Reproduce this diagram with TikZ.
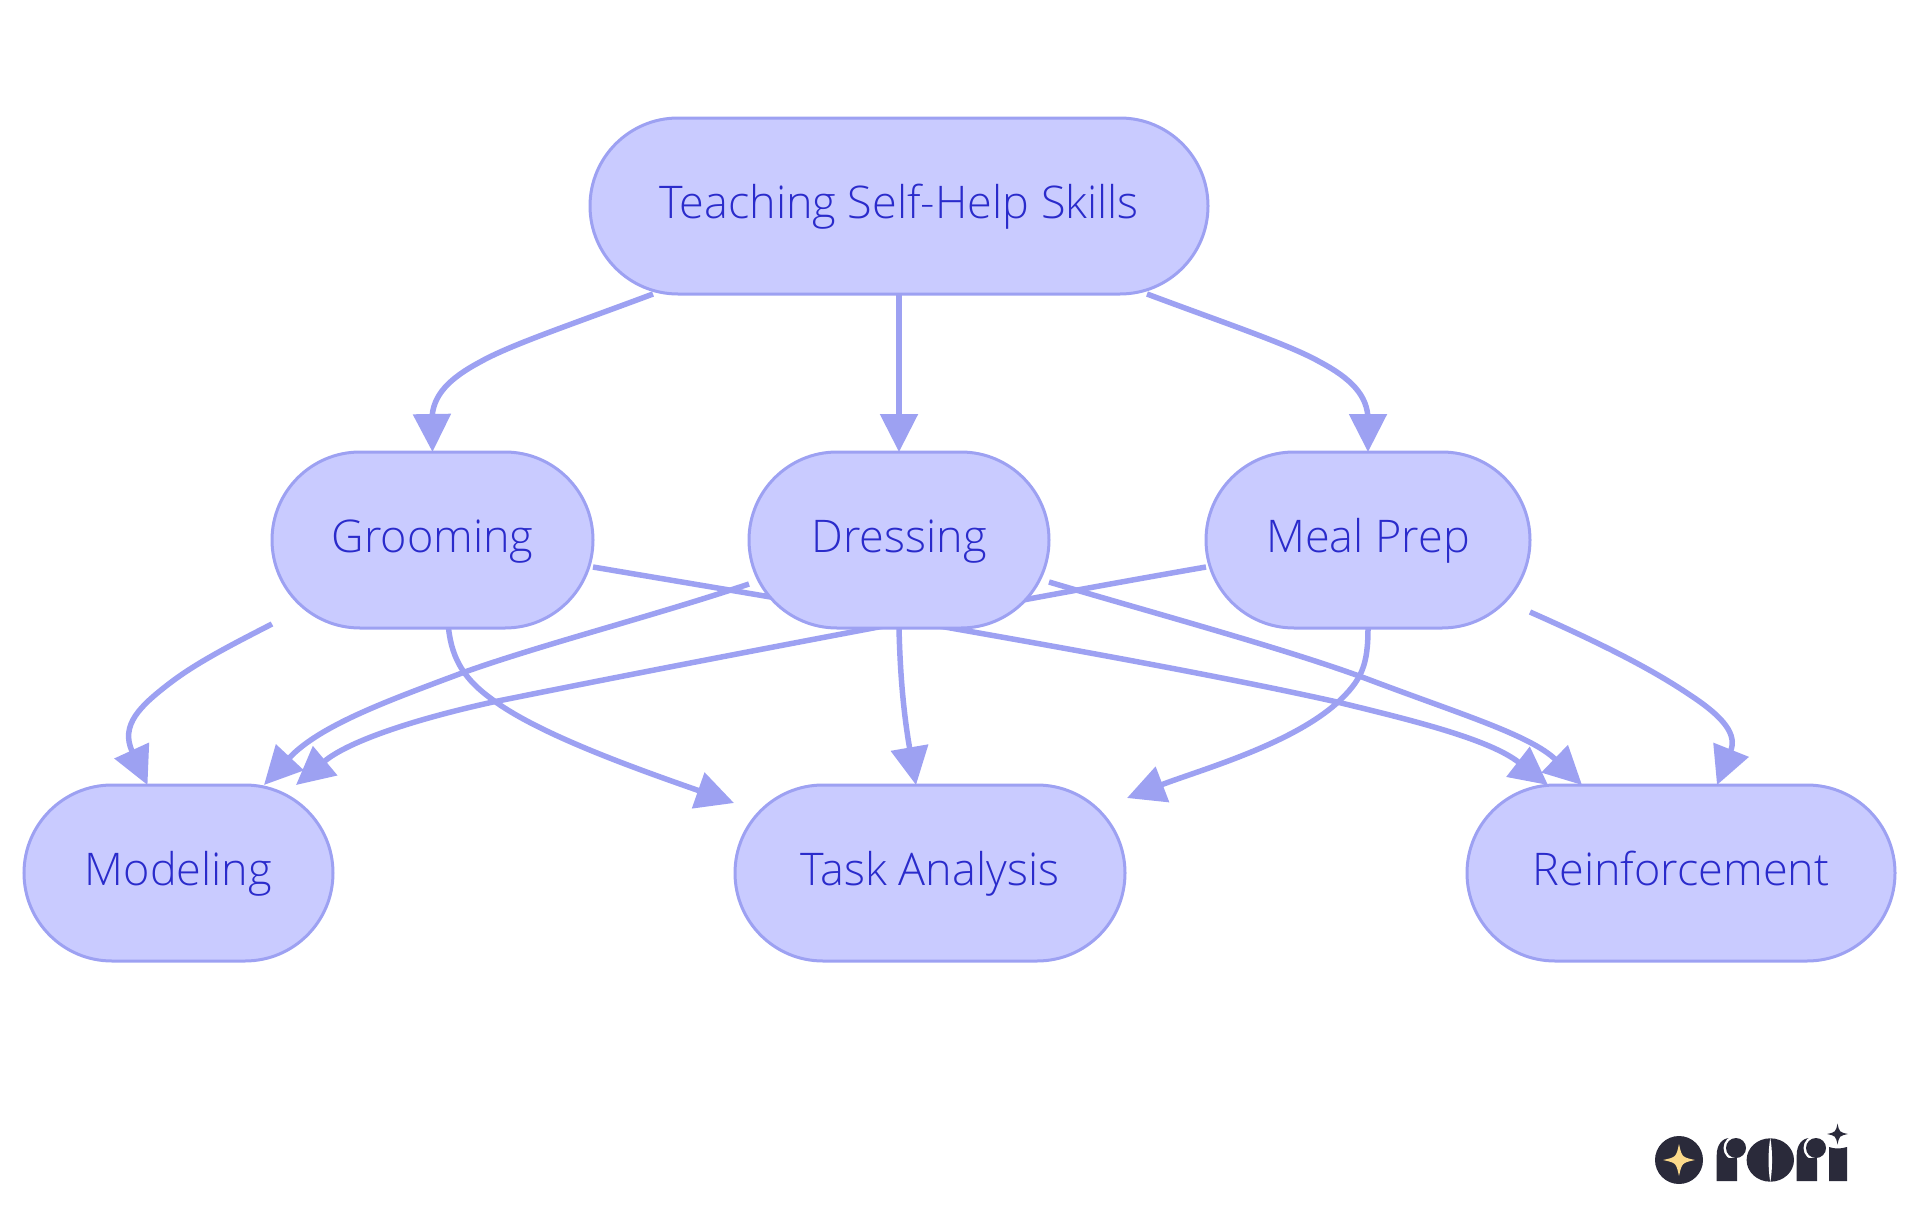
\documentclass[tikz,border=0pt]{standalone}
\usepackage{fontspec}
\setmainfont{Open Sans Light}
\usetikzlibrary{arrows.meta,backgrounds}
\definecolor{pillfill}{HTML}{C9CBFF}
\definecolor{pillline}{HTML}{9DA1F2}
\definecolor{pilltext}{HTML}{2A2BCB}
\definecolor{logodark}{HTML}{2A2A3A}
\definecolor{logostar}{HTML}{FBD98A}
\tikzset{
  pill/.style={draw=pillline,fill=pillfill,text=pilltext,line width=3pt,rounded corners=88pt,
    minimum height=176pt,inner sep=0pt,outer sep=0pt,text height=35pt,text depth=10pt,
    font=\fontsize{45}{54}\selectfont},
  edge/.style={draw=pillline,line width=5.5pt,-{Triangle[length=38pt,width=37pt]}},
}
\newcommand{\fourstar}[4]{% x y radius colour
  \fill[#4] (#1+#3,#2) .. controls (#1+0.18*#3,#2-0.18*#3) .. (#1,#2-#3)
    .. controls (#1-0.18*#3,#2-0.18*#3) .. (#1-#3,#2)
    .. controls (#1-0.18*#3,#2+0.18*#3) .. (#1,#2+#3)
    .. controls (#1+0.18*#3,#2+0.18*#3) .. (#1+#3,#2) -- cycle;}
\begin{document}
\begin{tikzpicture}[x=1pt,y=-1pt]
\useasboundingbox (0,0) rectangle (1920,1215);
% nodes
\node[pill,minimum width=618pt] (top) at (899,206) {Teaching Self-Help Skills};
\node[pill,minimum width=321pt] (groom) at (432.5,540) {Grooming};
\node[pill,minimum width=300pt] (dress) at (899,540) {Dressing};
\node[pill,minimum width=324pt] (meal) at (1368,540) {Meal Prep};
\node[pill,minimum width=309pt] (model) at (178.5,873) {Modeling};
\node[pill,minimum width=390pt] (task) at (930,873) {Task Analysis};
\node[pill,minimum width=428pt] (reinf) at (1681,873) {Reinforcement};
% edges behind the nodes
\begin{scope}[on background layer]
\draw[edge] ([xshift=63pt]top.south west) .. controls (570,325) and (510,345) .. (480,362) .. controls (450,378) and (432,395) .. (432,420) -- (groom.north);
\draw[edge] (top.south) -- (dress.north);
\draw[edge] ([xshift=-61pt]top.south east) .. controls (1230,325) and (1290,345) .. (1320,362) .. controls (1350,378) and (1368,395) .. (1368,420) -- (meal.north);
\draw[edge] ([yshift=-84pt]groom.west) .. controls (225,648) and (195,664) .. (170,683) .. controls (140,706) and (120,725) .. ([xshift=-31pt]model.north);
\draw[edge] ([xshift=16pt]groom.south) .. controls (452,660) and (465,680) .. (493,700) .. controls (540,735) and (640,770) .. ([yshift=-18pt,xshift=-1pt]task.north west);
\draw[edge] ([yshift=-27pt]groom.east) .. controls (800,602) and (1150,660) .. (1337,702) .. controls (1420,722) and (1490,740) .. ([xshift=81pt]reinf.north west);
\draw[edge] ([yshift=-44pt]dress.west) .. controls (650,617) and (540,645) .. (462,673) .. controls (390,700) and (320,725) .. ([xshift=-69pt]model.north east);
\draw[edge] ([yshift=-27pt]meal.west) .. controls (1050,594) and (700,660) .. (493,702) .. controls (420,718) and (350,740) .. ([xshift=-37pt]model.north east);
\draw[edge] (dress.south) .. controls (900,670) and (903,710) .. ([xshift=-14pt]task.north);
\draw[edge] ([yshift=-42pt]dress.east) .. controls (1150,612) and (1290,650) .. (1370,680) .. controls (1460,714) and (1530,735) .. ([xshift=115pt]reinf.north west);
\draw[edge] (meal.south) .. controls (1368,665) and (1362,680) .. (1337,703) .. controls (1290,745) and (1200,770) .. ([yshift=-13pt,xshift=2pt]task.north east);
\draw[edge] ([yshift=-72pt]meal.east) .. controls (1600,643) and (1650,668) .. (1690,695) .. controls (1725,718) and (1737,735) .. ([xshift=36pt]reinf.north);
\end{scope}
% logo
\fill[logodark] (1679,1160) circle[radius=24];
\fourstar{1679}{1160}{16}{logostar}
% first r
\fill[logodark] (1716.7,1181) -- (1716.7,1155) .. controls (1716.7,1145) and (1722,1138) .. (1730,1138) -- (1737,1138) -- (1737,1181) -- cycle;
\fill[white] (1736,1148) circle[radius=12.5];
\fill[logodark] (1725,1158) rectangle (1736.7,1181);
\fill[logodark] (1736,1148) circle[radius=10];
% o
\fill[logodark] (1770.3,1160) ellipse[x radius=23.7,y radius=21.7];
\fill[white] (1770.3,1138) .. controls (1768,1150) and (1768,1170) .. (1770.3,1182) .. controls (1772.6,1170) and (1772.6,1150) .. (1770.3,1138) -- cycle;
% second r
\fill[logodark] (1796.7,1181) -- (1796.7,1155) .. controls (1796.7,1145) and (1802,1138) .. (1810,1138) -- (1817,1138) -- (1817,1181) -- cycle;
\fill[white] (1816,1148) circle[radius=12.5];
\fill[logodark] (1805,1158) rectangle (1816.7,1181);
\fill[logodark] (1816,1148) circle[radius=10];
% i
\fill[logodark] (1829,1181) -- (1829,1147) .. controls (1835,1149) and (1840,1149) .. (1847,1147) -- (1847,1181) -- cycle;
\fourstar{1837.5}{1134}{10.5}{logodark}
\end{tikzpicture}
\end{document}
